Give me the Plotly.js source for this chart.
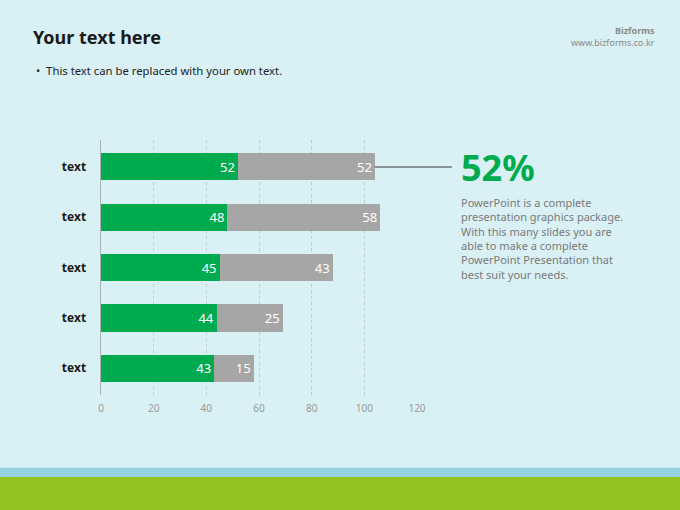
<!DOCTYPE html>
<html>
<head>
<meta charset="utf-8">
<script src="https://cdn.plot.ly/plotly-3.0.1.min.js"></script>
<style>
  html, body { margin: 0; padding: 0; background: #d9f0f4; }
  #myDiv { width: 680px; height: 510px; }
</style>
</head>
<body>
<div id="myDiv"></div>
<script>
// Chart data
var rowLabels = ['text', 'text', 'text', 'text', 'text'];
var greenVals = [52, 48, 45, 44, 43];
var grayVals = [52, 58, 43, 25, 15];
var xTicks = [0, 20, 40, 60, 80, 100, 120];

var rows = rowLabels.map(function (d, i) { return i; });
var xMax = 120;

var plotTop = 140, plotBottom = 395;
var plotH = plotBottom - plotTop;
// pixel row of the page -> paper coordinate
function py(p) { return (plotBottom - p) / plotH; }
function px(p) { return (p - 101) / 316; }

var font = '"Noto Sans", "Open Sans", sans-serif';

var trace1 = {
  type: 'bar',
  orientation: 'h',
  y: rows,
  x: greenVals,
  text: greenVals.map(String),
  textposition: 'inside',
  insidetextanchor: 'end',
  textfont: {color: '#ffffff', size: 13, family: font},
  marker: {color: '#00aa4f'},
  width: 0.54,
  hoverinfo: 'none'
};
var trace2 = {
  type: 'bar',
  orientation: 'h',
  y: rows,
  x: grayVals,
  text: grayVals.map(String),
  textposition: 'inside',
  insidetextanchor: 'end',
  textfont: {color: '#ffffff', size: 13, family: font},
  marker: {color: '#a6a6a6'},
  width: 0.54,
  hoverinfo: 'none'
};

var data = [trace1, trace2];

var topTotal = greenVals[0] + grayVals[0];

var layout = {
  width: 680,
  height: 510,
  barmode: 'stack',
  showlegend: false,
  paper_bgcolor: '#d9f0f4',
  plot_bgcolor: 'rgba(0,0,0,0)',
  margin: {l: 101, r: 263, t: plotTop, b: 510 - plotBottom},
  font: {family: font},
  xaxis: {
    range: [0, xMax],
    tickvals: xTicks,
    showgrid: true,
    gridcolor: '#bfccd0',
    griddash: '3px,3px',
    gridwidth: 1,
    zeroline: false,
    showline: false,
    ticks: '',
    tickfont: {size: 10, color: '#9a9a9a', family: font},
    ticklabelstandoff: 6
  },
  yaxis: {
    range: [4.53, -0.53],
    tickvals: rows,
    ticktext: rowLabels,
    showgrid: false,
    zeroline: false,
    showline: true,
    linecolor: '#a9b3b6',
    linewidth: 1.5,
    ticks: '',
    ticklabelstandoff: 11,
    tickfont: {size: 12, color: '#1a1a1a', family: font, weight: 'bold'}
  },
  shapes: [
    // bottom stripes
    {type: 'rect', xref: 'paper', yref: 'paper', x0: -1, x1: 2, y0: py(467), y1: py(468), line: {width: 0}, fillcolor: '#c2e6ee', layer: 'below'},
    {type: 'rect', xref: 'paper', yref: 'paper', x0: -1, x1: 2, y0: py(468), y1: py(477), line: {width: 0}, fillcolor: '#96d3e0', layer: 'below'},
    {type: 'rect', xref: 'paper', yref: 'paper', x0: -1, x1: 2, y0: py(477), y1: py(515), line: {width: 0}, fillcolor: '#93c122', layer: 'below'},
    // callout line from the top bar
    {type: 'line', xref: 'paper', yref: 'paper', x0: topTotal / xMax, x1: px(452),
     y0: py(167), y1: py(167), line: {color: '#3a3a3a', width: 1}}
  ],
  annotations: [
    {xref: 'paper', yref: 'paper', x: px(31), y: py(37), xanchor: 'left', yanchor: 'middle',
     text: '<b>Your text here</b>', showarrow: false, font: {size: 18, color: '#1a1a1a', family: font}},
    {xref: 'paper', yref: 'paper', x: px(34), y: py(70), xanchor: 'left', yanchor: 'middle',
     text: '•  This text can be replaced with your own text.', showarrow: false, font: {size: 11.3, color: '#222222', family: font}},
    {xref: 'paper', yref: 'paper', x: px(657), y: py(30), xanchor: 'right', yanchor: 'middle',
     text: '<b>Bizforms</b>', showarrow: false, font: {size: 9, color: '#8a8a8a', family: font}},
    {xref: 'paper', yref: 'paper', x: px(657), y: py(42), xanchor: 'right', yanchor: 'middle',
     text: 'www.bizforms.co.kr', showarrow: false, font: {size: 9, color: '#8a8a8a', family: font}},
    {xref: 'paper', yref: 'paper', x: px(459), y: py(167), xanchor: 'left', yanchor: 'middle',
     text: '<b>' + greenVals[0] + '%</b>', showarrow: false, font: {size: 36, color: '#00aa4f', family: font}},
    {xref: 'paper', yref: 'paper', x: px(459), y: py(193), xanchor: 'left', yanchor: 'top', align: 'left',
     text: 'PowerPoint is a complete<br>presentation graphics package.<br>With this many slides you are<br>able to make a complete<br>PowerPoint Presentation that<br>best suit your needs.',
     showarrow: false, font: {size: 11, color: '#7a7a7a', family: font}}
  ]
};

Plotly.newPlot('myDiv', data, layout, {displayModeBar: false, staticPlot: true});
</script>
</body>
</html>
